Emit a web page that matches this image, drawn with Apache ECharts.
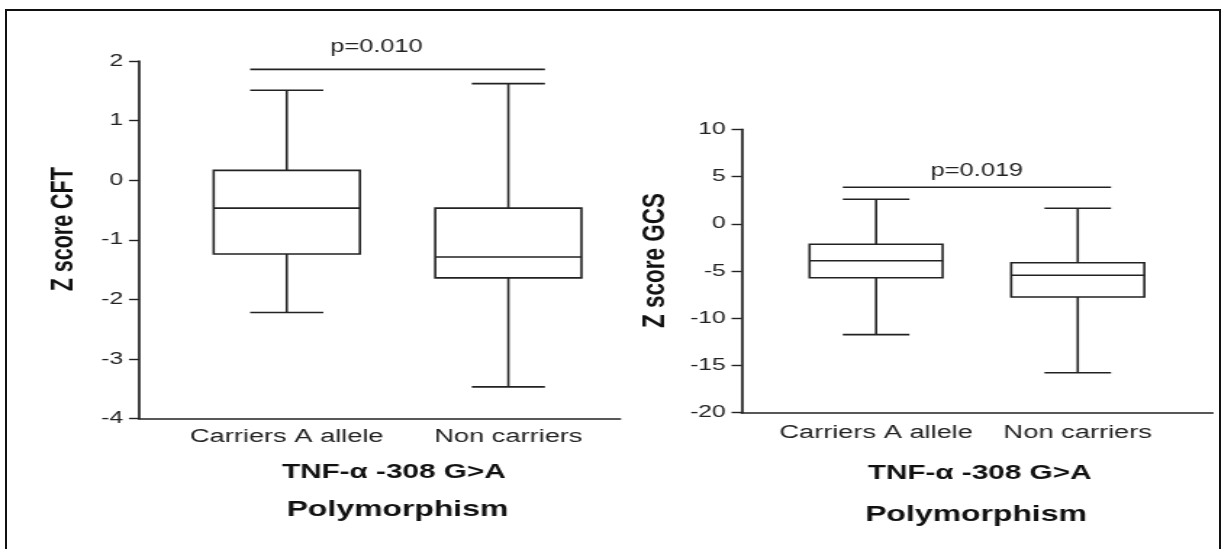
<!DOCTYPE html>
<html>
<head>
<meta charset="utf-8">
<script src="https://cdn.jsdelivr.net/npm/echarts@6/dist/echarts.min.js"></script>
<style>
html, body { margin: 0; padding: 0; background: #fff; overflow: hidden; width: 1222px; height: 549px; }
#chart { position: absolute; left: 0; top: 0; width: 843px; height: 549px; transform: scaleX(1.45); transform-origin: 0 0; }
#frame { position: absolute; left: 5px; top: 9px; width: 1216px; height: 560px; border: 2px solid #111; box-sizing: border-box; pointer-events: none; }
</style>
</head>
<body>
<div id="chart"></div>
<div id="frame"></div>
<script>
// ---------------- data ----------------
const categories = ['Carriers A allele', 'Non carriers'];
// five-number summaries: [min, Q1, median, Q3, max]
const cftCarriers    = [-2.22, -1.24, -0.47, 0.165, 1.51];
const cftNonCarriers = [-3.47, -1.64, -1.29, -0.47, 1.62];
const gcsCarriers    = [-11.74, -5.71, -3.91, -2.17, 2.59];
const gcsNonCarriers = [-15.77, -7.75, -5.45, -4.12, 1.64];
const cftTicks = [-4, -3, -2, -1, 0, 1, 2];
const gcsTicks = [-20, -15, -10, -5, 0, 5, 10];
const yNames = ['Z score CFT', 'Z score GCS'];
const cftPValue = 'p=0.010';
const gcsPValue = 'p=0.019';
const cftBracketLevel = 1.86;
const gcsBracketLevel = 3.86;
const xTitle = 'TNF-\u03b1 -308 G>A';
const xSubTitle = 'Polymorphism';

// ---------------- styles ----------------
const FONT = '"Liberation Sans", Arial, sans-serif';
const LINE = '#222';
const LW = 1.6;
const BOX_W = 0.66;   // box width in category units
const CAP_W = 0.33;   // whisker cap width in category units

function renderBox(params, api) {
  const x = api.value(0);
  const pLo = api.coord([x, api.value(1)]);
  const pQ1 = api.coord([x, api.value(2)]);
  const pMed = api.coord([x, api.value(3)]);
  const pQ3 = api.coord([x, api.value(4)]);
  const pHi = api.coord([x, api.value(5)]);
  const hb = api.size([BOX_W, 0])[0] / 2;
  const hc = api.size([CAP_W, 0])[0] / 2;
  const cx = pMed[0];
  const st = { stroke: LINE, lineWidth: LW, fill: null };
  return {
    type: 'group',
    children: [
      { type: 'line', shape: { x1: cx, y1: pQ3[1], x2: cx, y2: pHi[1] }, style: st },
      { type: 'line', shape: { x1: cx, y1: pQ1[1], x2: cx, y2: pLo[1] }, style: st },
      { type: 'line', shape: { x1: cx - hc, y1: pHi[1], x2: cx + hc, y2: pHi[1] }, style: st },
      { type: 'line', shape: { x1: cx - hc, y1: pLo[1], x2: cx + hc, y2: pLo[1] }, style: st },
      { type: 'rect', shape: { x: cx - hb, y: pQ3[1], width: 2 * hb, height: pQ1[1] - pQ3[1] },
        style: { stroke: LINE, lineWidth: LW, fill: '#fff' } },
      { type: 'line', shape: { x1: cx - hb, y1: pMed[1], x2: cx + hb, y2: pMed[1] }, style: st }
    ]
  };
}

function makeBracket(label, dx, dy) {
  return function (params, api) {
    const a = api.coord([api.value(0), api.value(2)]);
    const b = api.coord([api.value(1), api.value(2)]);
    const hc = api.size([CAP_W, 0])[0] / 2;
    return {
      type: 'group',
      children: [
        { type: 'line', shape: { x1: a[0] - hc, y1: a[1], x2: b[0] + hc, y2: b[1] },
          style: { stroke: LINE, lineWidth: LW } },
        { type: 'text', x: (a[0] + b[0]) / 2 + dx, y: a[1] - dy,
          style: { text: label, fill: '#222', font: '17.5px ' + FONT, align: 'center', verticalAlign: 'middle' } }
      ]
    };
  };
}

function xAxisFor(gi, max, margin) {
  return {
    gridIndex: gi, type: 'value', min: 0.3335, max: max,
    axisLine: { show: true, onZero: false, lineStyle: { color: LINE, width: 1.7 } },
    axisTick: { show: false },
    splitLine: { show: false },
    axisLabel: {
      customValues: [1, 2],
      formatter: v => categories[Math.round(v) - 1] || '',
      margin: margin, fontSize: 18.8, color: '#222', fontFamily: FONT
    }
  };
}

function yAxisFor(gi, ticks, name, nameGap, nameSize) {
  return {
    gridIndex: gi, type: 'value',
    min: ticks[0], max: ticks[ticks.length - 1], interval: ticks[1] - ticks[0],
    axisLine: { show: true, onZero: false, lineStyle: { color: LINE, width: 1.7 } },
    axisTick: { show: true, length: 7, lineStyle: { color: LINE, width: 1.4 } },
    splitLine: { show: false },
    axisLabel: { margin: 11, fontSize: 17, color: '#222', fontFamily: FONT },
    name: name, nameLocation: 'middle', nameGap: nameGap,
    nameTextStyle: { fontSize: nameSize, fontWeight: 'bold', color: '#111', fontFamily: FONT, padding: [0, 0, 0, 21] }
  };
}

function titleAt(text, left, top, size) {
  return { text: text, left: left, top: top, textAlign: 'center', padding: 0,
    textStyle: { fontSize: size, fontWeight: 'bold', color: '#111', fontFamily: FONT } };
}

const chart = echarts.init(document.getElementById('chart'), null, { renderer: 'canvas', width: 843, height: 549 });
chart.setOption({
  backgroundColor: 'transparent',
  animation: false,
  title: [
    titleAt(xTitle, 271.6, 461.5, 20.5),
    titleAt(xSubTitle, 274.1, 499, 22),
    titleAt(xTitle, 675.6, 462.5, 20.5),
    titleAt(xSubTitle, 673.1, 503.5, 22)
  ],
  grid: [
    { left: 95.9, top: 61, width: 331.7, height: 357.5 },
    { left: 511.5, top: 129.3, width: 324.8, height: 283.4 }
  ],
  xAxis: [xAxisFor(0, 2.504, 9), xAxisFor(1, 2.669, 10.5)],
  yAxis: [
    yAxisFor(0, cftTicks, yNames[0], 41, 21.5),
    yAxisFor(1, gcsTicks, yNames[1], 48, 22.5)
  ],
  series: [
    { type: 'custom', xAxisIndex: 0, yAxisIndex: 0, renderItem: renderBox, clip: false,
      encode: { x: 0, y: [1, 2, 3, 4, 5] },
      data: [[1].concat(cftCarriers), [2].concat(cftNonCarriers)] },
    { type: 'custom', xAxisIndex: 1, yAxisIndex: 1, renderItem: renderBox, clip: false,
      encode: { x: 0, y: [1, 2, 3, 4, 5] },
      data: [[1].concat(gcsCarriers), [2].concat(gcsNonCarriers)] },
    { type: 'custom', xAxisIndex: 0, yAxisIndex: 0, renderItem: makeBracket(cftPValue, -14.5, 22), clip: false,
      encode: { x: [0, 1], y: 2 }, data: [[1, 2, cftBracketLevel]] },
    { type: 'custom', xAxisIndex: 1, yAxisIndex: 1, renderItem: makeBracket(gcsPValue, 0, 16), clip: false,
      encode: { x: [0, 1], y: 2 }, data: [[1, 2, gcsBracketLevel]] }
  ]
});
</script>
</body>
</html>
